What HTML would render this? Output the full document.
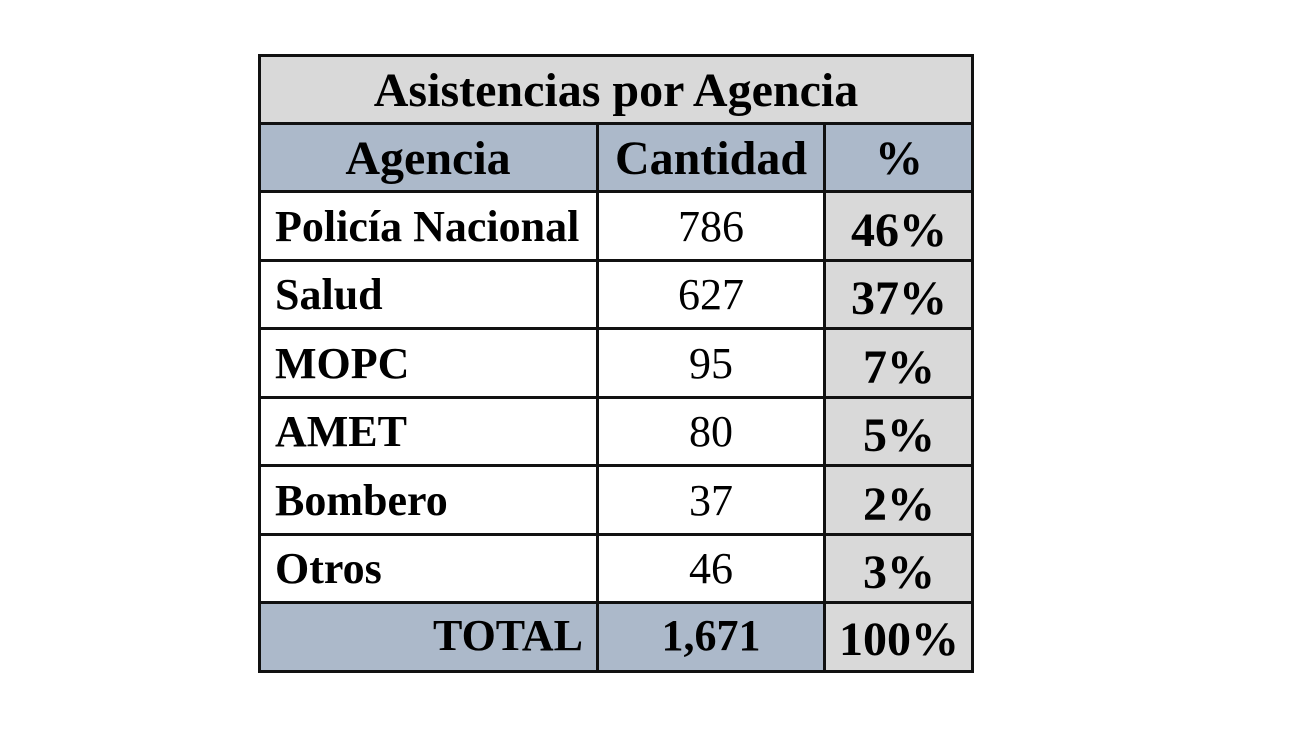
<!DOCTYPE html>
<html><head><style>
body{margin:0;width:1300px;height:731px;background:#fff;position:relative;overflow:hidden;font-family:"Liberation Serif",serif;}
.c{position:absolute;box-sizing:border-box;display:flex;align-items:center;font-size:44px;color:#000;}
.b{font-weight:bold}
.L{font-size:48px}
.h{position:absolute;background:#111;}
</style></head><body>
<div class="c" style="left:258px;top:54px;width:716px;height:70px;background:#d9d9d9"></div>
<div class="c" style="left:258px;top:123px;width:716px;height:69px;background:#acb9ca"></div>
<div class="c" style="left:824px;top:192px;width:150px;height:411px;background:#d9d9d9"></div>
<div class="c" style="left:258px;top:603px;width:566px;height:70px;background:#acb9ca"></div>
<div class="c" style="left:824px;top:603px;width:150px;height:70px;background:#d9d9d9"></div>
<div class="h" style="left:258px;top:54px;width:716px;height:3px"></div>
<div class="h" style="left:258px;top:122px;width:716px;height:3px"></div>
<div class="h" style="left:258px;top:190px;width:716px;height:3px"></div>
<div class="h" style="left:258px;top:259px;width:716px;height:3px"></div>
<div class="h" style="left:258px;top:327px;width:716px;height:3px"></div>
<div class="h" style="left:258px;top:396px;width:716px;height:3px"></div>
<div class="h" style="left:258px;top:464px;width:716px;height:3px"></div>
<div class="h" style="left:258px;top:533px;width:716px;height:3px"></div>
<div class="h" style="left:258px;top:601px;width:716px;height:3px"></div>
<div class="h" style="left:258px;top:670px;width:716px;height:3px"></div>
<div class="h" style="left:258px;top:54px;width:3px;height:619px"></div>
<div class="h" style="left:971px;top:54px;width:3px;height:619px"></div>
<div class="h" style="left:596px;top:122px;width:3px;height:551px"></div>
<div class="h" style="left:823px;top:122px;width:3px;height:551px"></div>

<div class="c b L" style="left:258px;top:56px;width:716px;height:68px;justify-content:center">Asistencias por Agencia</div>
<div class="c b L" style="left:258px;top:124px;width:340px;height:68px;justify-content:center">Agencia</div>
<div class="c b L" style="left:598px;top:124px;width:226px;height:68px;justify-content:center">Cantidad</div>
<div class="c b L" style="left:824px;top:124px;width:150px;height:68px;justify-content:center">%</div>

<div class="c b" style="left:275px;top:192px;height:68px">Policía Nacional</div>
<div class="c" style="left:598px;top:192px;width:226px;height:68px;justify-content:center">786</div>
<div class="c b L" style="left:824px;top:196px;width:150px;height:68px;justify-content:center">46%</div>

<div class="c b" style="left:275px;top:260px;height:68px">Salud</div>
<div class="c" style="left:598px;top:260px;width:226px;height:68px;justify-content:center">627</div>
<div class="c b L" style="left:824px;top:264px;width:150px;height:68px;justify-content:center">37%</div>

<div class="c b" style="left:275px;top:329px;height:68px">MOPC</div>
<div class="c" style="left:598px;top:329px;width:226px;height:68px;justify-content:center">95</div>
<div class="c b L" style="left:824px;top:333px;width:150px;height:68px;justify-content:center">7%</div>

<div class="c b" style="left:275px;top:397px;height:68px">AMET</div>
<div class="c" style="left:598px;top:397px;width:226px;height:68px;justify-content:center">80</div>
<div class="c b L" style="left:824px;top:401px;width:150px;height:68px;justify-content:center">5%</div>

<div class="c b" style="left:275px;top:466px;height:68px">Bombero</div>
<div class="c" style="left:598px;top:466px;width:226px;height:68px;justify-content:center">37</div>
<div class="c b L" style="left:824px;top:470px;width:150px;height:68px;justify-content:center">2%</div>

<div class="c b" style="left:275px;top:534px;height:68px">Otros</div>
<div class="c" style="left:598px;top:534px;width:226px;height:68px;justify-content:center">46</div>
<div class="c b L" style="left:824px;top:538px;width:150px;height:68px;justify-content:center">3%</div>

<div class="c b" style="left:258px;top:601px;width:325px;height:68px;justify-content:flex-end">TOTAL</div>
<div class="c b" style="left:598px;top:601px;width:226px;height:68px;justify-content:center">1,671</div>
<div class="c b L" style="left:824px;top:605px;width:150px;height:68px;justify-content:center">100%</div>
</body></html>
